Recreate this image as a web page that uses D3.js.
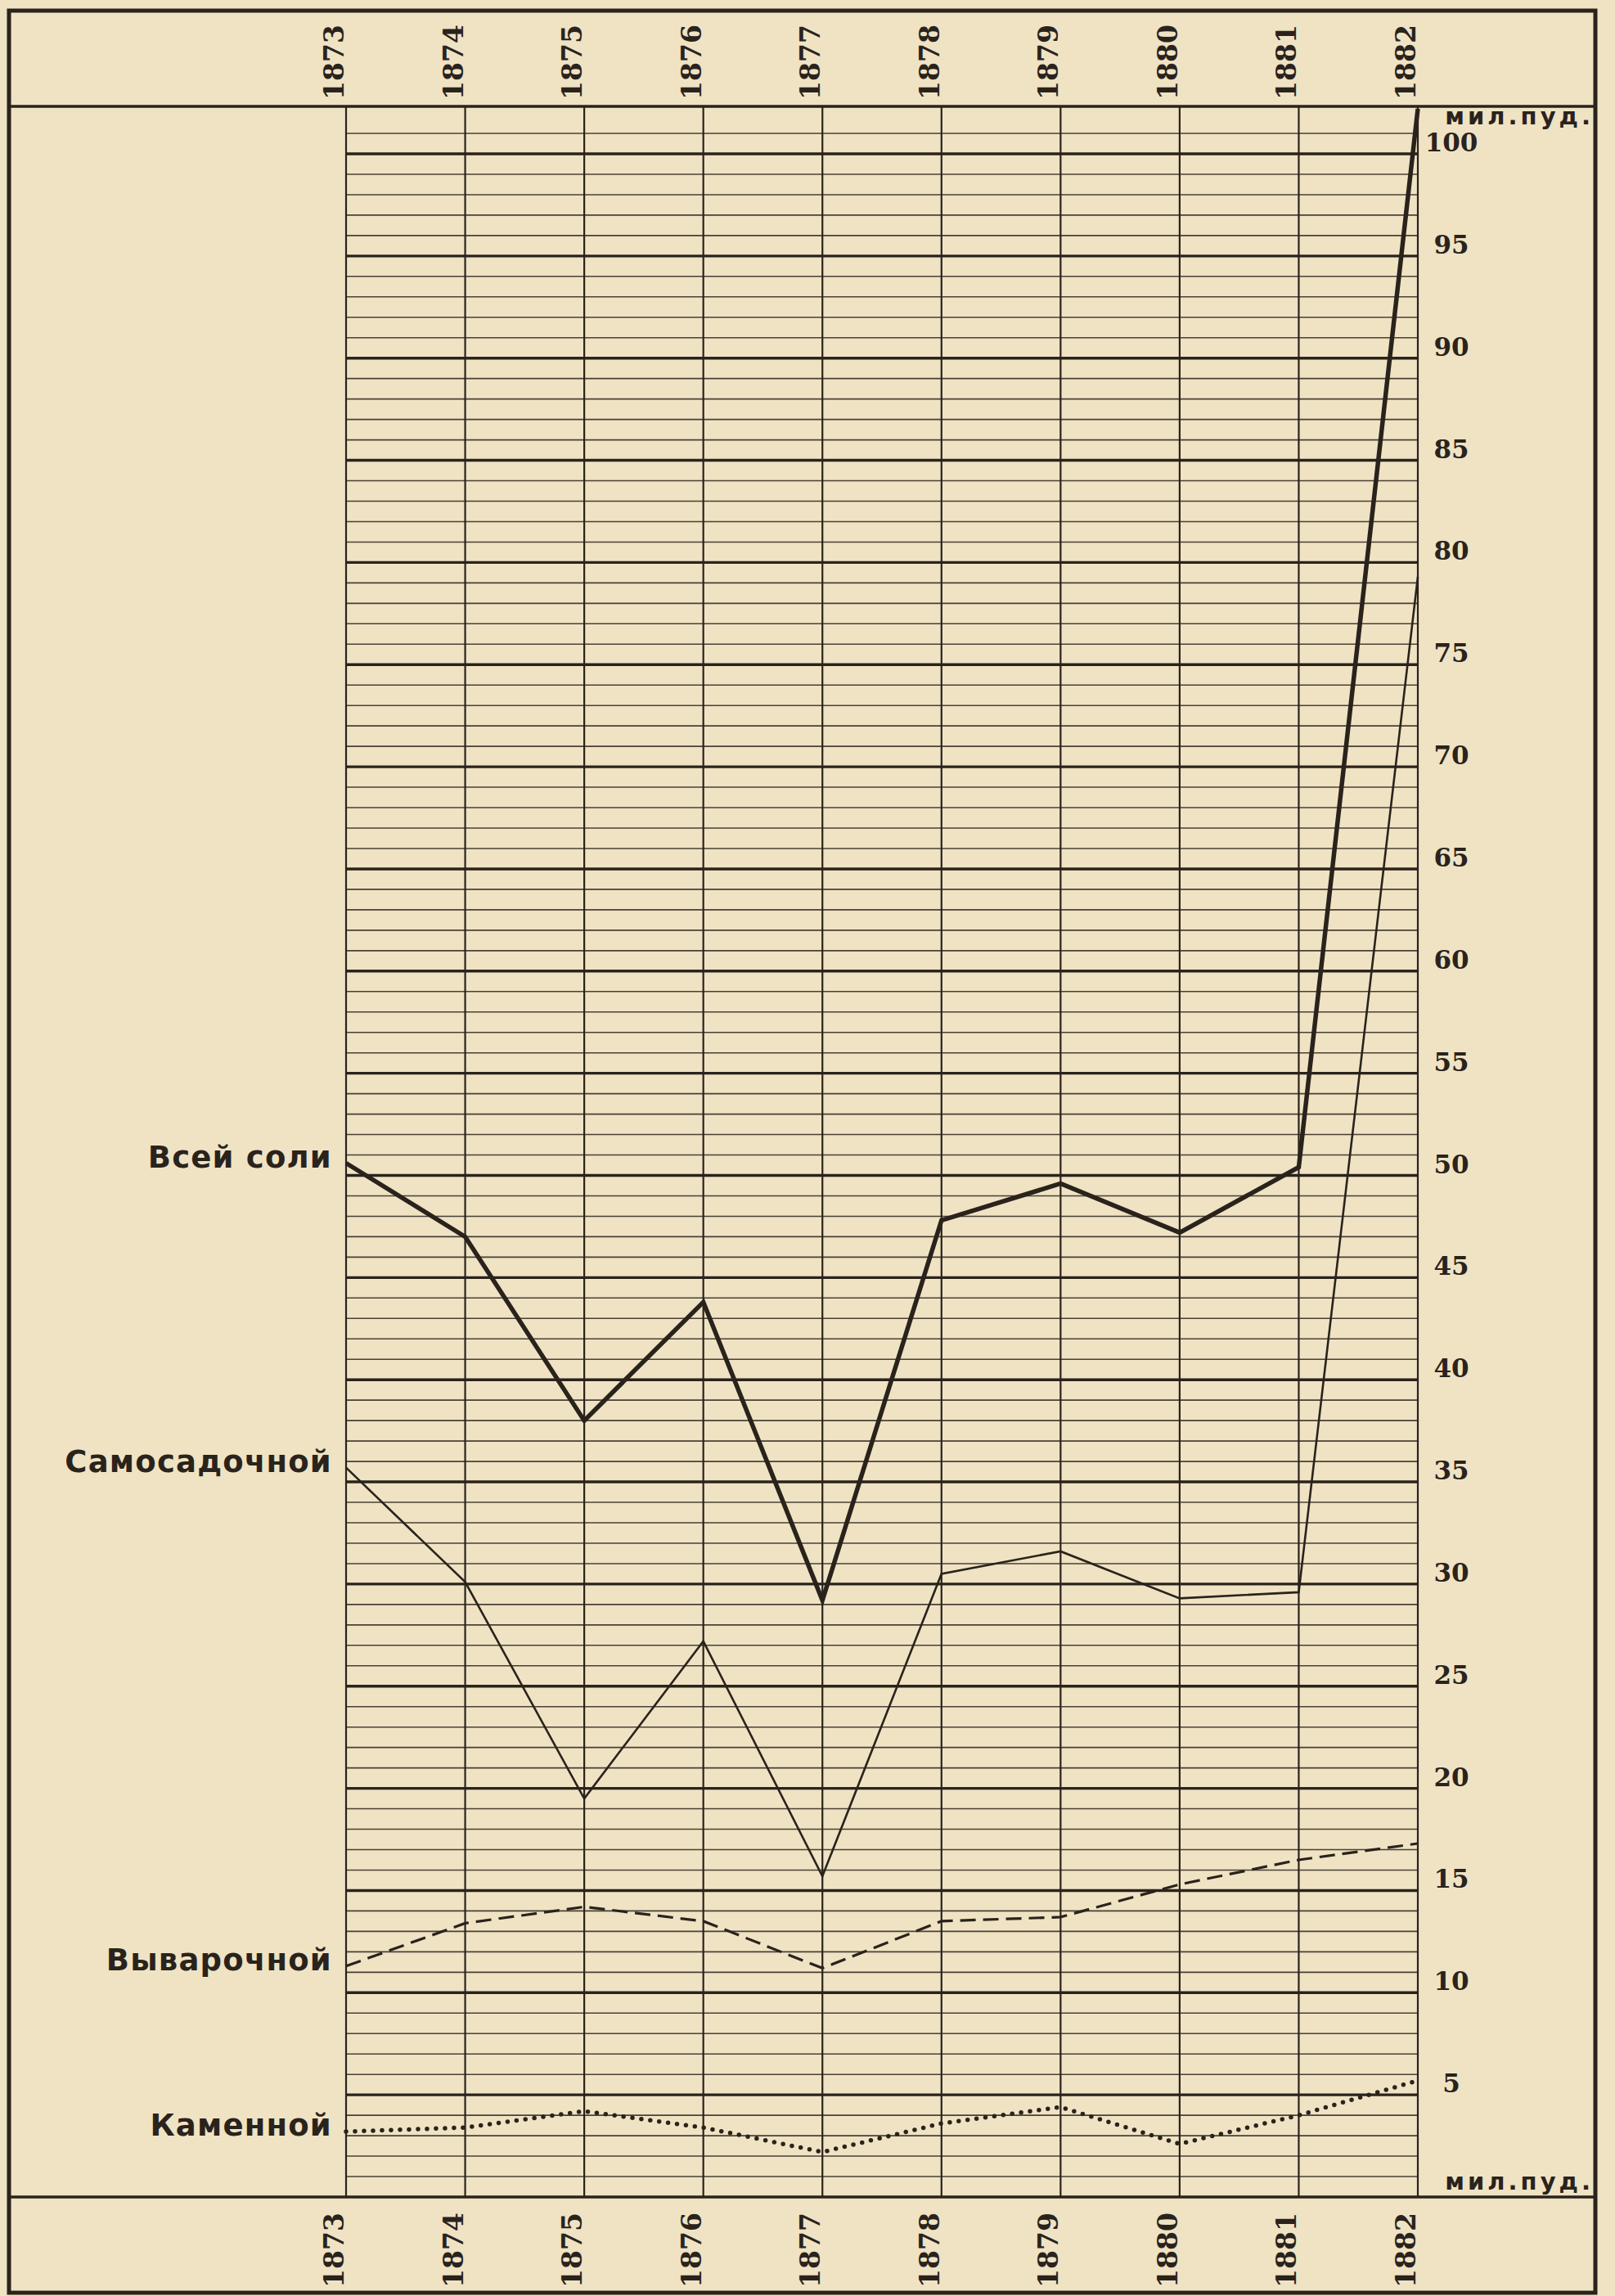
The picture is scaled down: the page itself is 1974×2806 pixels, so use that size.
<!DOCTYPE html>
<html lang="ru">
<head>
<meta charset="utf-8">
<title>Добыча соли 1873-1882</title>
<script src="https://cdn.jsdelivr.net/npm/d3@7/dist/d3.min.js"></script>
<style>
body { margin: 0; background: #efe3c4; }
</style>
</head>
<body>
<script>
var w = 1974;
var h = 2806;

// years on the grid (top and bottom labels)
var years = [1873, 1874, 1875, 1876, 1877, 1878, 1879, 1880, 1881, 1882];

// production, million poods
var allSalt   = [50.6, 47.0, 38.0, 43.8, 29.2, 47.8, 49.6, 47.2, 50.4, 102.2];
var selfSalt  = [35.7, 30.1, 19.5, 27.2, 15.7, 30.5, 31.6, 29.3, 29.6, 79.3];
var boiledSalt = [11.3, 13.4, 14.2, 13.5, 11.2, 13.5, 13.7, 15.3, 16.5, 17.3];
var rockSalt  = [3.2, 3.4, 4.2, 3.4, 2.2, 3.6, 4.4, 2.6, 4.0, 5.7];

var seriesNames = ["Всей соли", "Самосадочной", "Выварочной", "Каменной"];
var valueTicks = [5, 10, 15, 20, 25, 30, 35, 40, 45, 50, 55, 60, 65, 70, 75, 80, 85, 90, 95, 100];
var unitLabel = "мил.пуд.";

var ink = "#2a231c";

var xScale = d3.scaleLinear().domain([1873, 1882]).range([423, 1733]);
var yScale = d3.scaleLinear().domain([0, 100]).range([2685, 188]);

var headTop = 130;      // line under the top year band

var svg = d3.select("body")
            .append("svg")
            .attr("width", w)
            .attr("height", h)
            .style("display", "block");

svg.append("rect")
   .attr("width", w)
   .attr("height", h)
   .attr("fill", "#efe3c4");

// thin unit lines first, heavy 5-lines over them
var units = d3.range(1, 102);
svg.selectAll("line.minor")
   .data(units.filter(function (v) { return v % 5 != 0; }))
   .enter()
   .append("line")
   .attr("class", "minor")
   .attr("x1", xScale(1873))
   .attr("x2", xScale(1882))
   .attr("y1", function (d) { return yScale(d); })
   .attr("y2", function (d) { return yScale(d); })
   .attr("stroke", ink)
   .attr("stroke-opacity", 0.85)
   .attr("stroke-width", 1.6);

svg.selectAll("line.major")
   .data(valueTicks)
   .enter()
   .append("line")
   .attr("class", "major")
   .attr("x1", xScale(1873))
   .attr("x2", xScale(1882))
   .attr("y1", function (d) { return yScale(d); })
   .attr("y2", function (d) { return yScale(d); })
   .attr("stroke", ink)
   .attr("stroke-width", 3.4);

// year lines
svg.selectAll("line.year")
   .data(years)
   .enter()
   .append("line")
   .attr("class", "year")
   .attr("x1", function (d) { return xScale(d); })
   .attr("x2", function (d) { return xScale(d); })
   .attr("y1", headTop)
   .attr("y2", yScale(0))
   .attr("stroke", ink)
   .attr("stroke-width", 2.2);

// outer frame and the two year bands
svg.append("rect")
   .attr("x", 11)
   .attr("y", 13)
   .attr("width", 1939)
   .attr("height", 2789)
   .attr("fill", "none")
   .attr("stroke", ink)
   .attr("stroke-width", 5);
svg.append("line")
   .attr("x1", 11).attr("x2", 1950)
   .attr("y1", headTop).attr("y2", headTop)
   .attr("stroke", ink).attr("stroke-width", 3.5);
svg.append("line")
   .attr("x1", 11).attr("x2", 1950)
   .attr("y1", yScale(0)).attr("y2", yScale(0))
   .attr("stroke", ink).attr("stroke-width", 3.5);

// year labels, top and bottom
[76, 2750].forEach(function (cy) {
  svg.append("g")
     .selectAll("text")
     .data(years)
     .enter()
     .append("text")
     .attr("transform", function (d) {
       return "translate(" + (xScale(d) - 3) + "," + cy + ") rotate(-90)";
     })
     .attr("text-anchor", "middle")
     .attr("font-family", "'DejaVu Serif', serif")
     .attr("font-weight", "bold")
     .attr("font-size", "33px")
     .attr("fill", ink)
     .text(function (d) { return d; });
});

// value labels on the right
svg.selectAll("text.val")
   .data(valueTicks)
   .enter()
   .append("text")
   .attr("class", "val")
   .attr("x", 1774)
   .attr("y", function (d) { return yScale(d) - 3; })
   .attr("text-anchor", "middle")
   .attr("font-family", "'DejaVu Serif', serif")
   .attr("font-weight", "bold")
   .attr("font-size", "31px")
   .attr("fill", ink)
   .text(function (d) { return d; });

[[1948, 152], [1948, 2676]].forEach(function (p) {
  svg.append("text")
     .attr("x", p[0])
     .attr("y", p[1])
     .attr("text-anchor", "end")
     .attr("font-family", "'DejaVu Sans', sans-serif")
     .attr("font-weight", "bold")
     .attr("font-size", "29px")
     .attr("letter-spacing", "4px")
     .attr("fill", ink)
     .text(unitLabel);
});

// the four curves
var line = d3.line()
             .x(function (d, i) { return xScale(years[i]); })
             .y(function (d) { return yScale(d); });

var series = [
  { values: allSalt,    width: 5.5, dash: null,   cap: "butt" },
  { values: selfSalt,   width: 2.6, dash: null,   cap: "butt" },
  { values: boiledSalt, width: 3.2, dash: "19,9", cap: "butt" },
  { values: rockSalt,   width: 5.5, dash: "0,11", cap: "round" }
];

series.forEach(function (s, k) {
  svg.append("path")
     .attr("d", line(s.values))
     .attr("fill", "none")
     .attr("stroke", ink)
     .attr("stroke-width", s.width)
     .attr("stroke-linejoin", "miter")
     .attr("stroke-linecap", s.cap)
     .attr("stroke-dasharray", s.dash);

  svg.append("text")
     .attr("x", 406)
     .attr("y", yScale(s.values[0]) + 5)
     .attr("text-anchor", "end")
     .attr("font-family", "'DejaVu Sans', sans-serif")
     .attr("font-weight", "bold")
     .attr("font-size", "37px")
     .attr("letter-spacing", "1.2px")
     .attr("fill", ink)
     .text(seriesNames[k]);
});
</script>
</body>
</html>
